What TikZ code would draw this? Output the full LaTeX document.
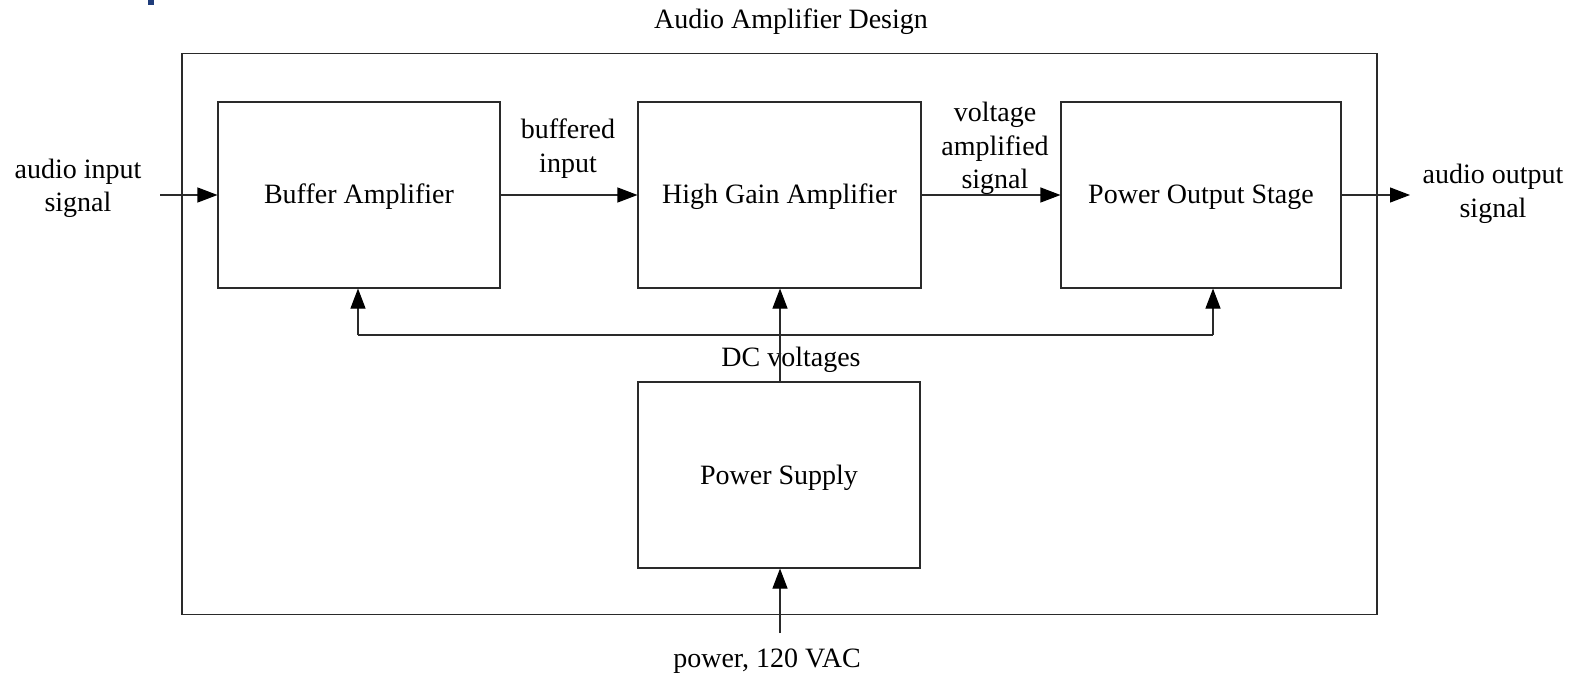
\documentclass[tikz,border=0pt]{standalone}
\usepackage{fontspec}
\setmainfont{Liberation Serif}
\usetikzlibrary{arrows.meta}
\definecolor{linegray}{HTML}{2A2A2A}
\definecolor{navyfrag}{HTML}{1F3C7A}
\begin{document}
\begin{tikzpicture}[x=1pt,y=-1pt,
  every node/.style={font=\fontsize{28}{33.5}\selectfont, inner sep=0pt, text=black},
  blockbox/.style={draw=linegray, line width=1.1pt, minimum width=282pt, minimum height=186pt, anchor=center, text height=24pt, text depth=6pt},
  lbl/.style={align=center, anchor=center},
  conn/.style={draw=linegray, line width=1.1pt},
  arr/.style={conn, -{Triangle[length=20pt,width=15pt,fill=black,color=black]}}]
\useasboundingbox (0,0) rectangle (1571,676);
\fill[white] (0,0) rectangle (1571,676);
% cut-off fragment at top left
\fill[navyfrag] (148,0) rectangle (154,5.5);
% outer frame
\node[draw=linegray, line width=1.1pt, minimum width=1195pt, minimum height=561pt, anchor=center] (frame) at (779.5,334) {};
\node[lbl] (title) at (791,22) {Audio Amplifier Design};
% blocks
\node[blockbox] (buf) at (359,195) {Buffer Amplifier};
\node[blockbox, minimum width=283pt] (hga) at (779.5,195) {High Gain Amplifier};
\node[blockbox, minimum width=280pt] (pos) at (1201,195) {Power Output Stage};
\node[blockbox] (ps) at (779,475) {Power Supply};
% labels
\node[lbl] (inlbl) at (78,188.4) {audio input\\signal};
\node[lbl] (outlbl) at (1493,194) {audio output\\signal};
\node[lbl] (buflbl) at (568,148.4) {buffered\\input};
\node[lbl] (vlbl) at (995,148.4) {voltage\\amplified\\signal};
\node[lbl] (dclbl) at (791,360) {DC voltages};
\node[lbl] (pwrlbl) at (767,661.5) {power, 120 VAC};
% coordinates
\coordinate (inL) at (160,195);
\coordinate (outR) at (1410,195);
\coordinate (bl) at (358,335);
\coordinate (br) at (1213,335);
\coordinate (pwrin) at (780,633);
% signal path
\draw[arr] (inL) -- (buf.west);
\draw[arr] (buf.east) -- (hga.west);
\draw[arr] (hga.east) -- (pos.west);
\draw[arr] (pos.east) -- (outR);
% DC bus
\draw[conn] (bl) -- (br);
\draw[arr] (bl) -- (bl |- buf.south);
\draw[arr] (br) -- (br |- pos.south);
\draw[arr] (ps.north -| pwrin) -- (hga.south -| pwrin);
\draw[arr] (pwrin) -- (ps.south -| pwrin);
\end{tikzpicture}
\end{document}
